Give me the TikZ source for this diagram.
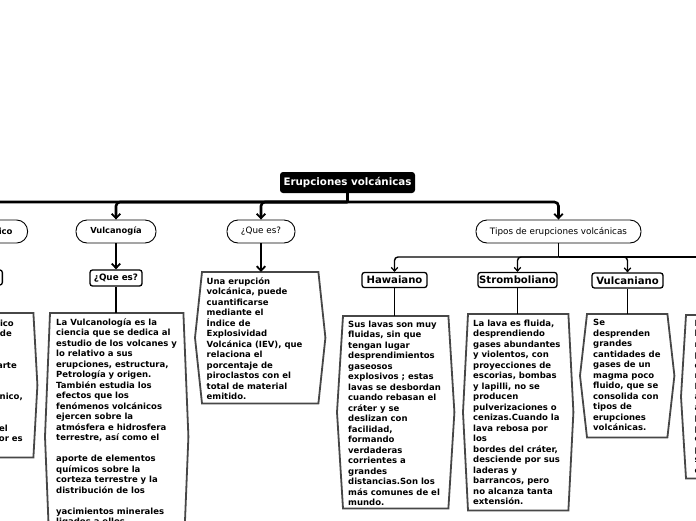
\documentclass[tikz,border=0pt]{standalone}
\usepackage{fontspec}
\setmainfont{DejaVu Sans}
\usetikzlibrary{arrows.meta,calc}
\begin{document}
\begin{tikzpicture}[x=1pt,y=-1pt,
  rootnode/.style={fill=black, text=white, rounded corners=3pt, font=\fontsize{10.3}{12}\selectfont\bfseries, minimum height=21pt, inner xsep=0pt, inner ysep=0pt},
  pill/.style={draw=black, line width=0.9pt, fill=white, rounded corners=11pt, minimum height=23pt, inner xsep=0pt, inner ysep=0pt, font=\fontsize{8.8}{10}\selectfont},
  lbl/.style={draw=black, line width=1.3pt, fill=white, rounded corners=2.5pt, minimum height=15pt, inner sep=0pt, font=\fontsize{10.1}{12}\selectfont\bfseries},
  smalllbl/.style={lbl, font=\fontsize{8.8}{10}\selectfont\bfseries, minimum height=16pt},
  boxarea/.style={inner sep=0pt, anchor=north west},
  boxtext/.style={inner sep=0pt, anchor=north west, align=left, font=\fontsize{8.5}{10.5}\selectfont\bfseries},
  frag/.style={inner sep=0pt, anchor=base east, font=\fontsize{8.5}{10.5}\selectfont\bfseries},
  hexline/.style={draw=black!72, line width=1.8pt, fill=white, line join=miter},
  bigline/.style={line width=2.6pt, rounded corners=4pt},
  midline/.style={line width=1.8pt},
  thinline/.style={line width=1.4pt, rounded corners=3.5pt},
  bigarrow/.style={-{Straight Barb[length=4.5pt,width=8.5pt,line width=1.8pt]}},
  smallarrow/.style={-{Straight Barb[length=3.5pt,width=6.5pt,line width=1.3pt]}}
]
\useasboundingbox (0,0) rectangle (696,520);
\clip (0,0) rectangle (696,520);
\fill[white] (0,0) rectangle (696,520);

% box areas (invisible, named)
\node[boxarea, minimum width=113pt, minimum height=144pt] (lbox) at (-80,313) {};
\node[boxarea, minimum width=133pt, minimum height=247pt] (vbox) at (50,313) {};
\node[boxarea, minimum width=116pt, minimum height=131pt] (ebox) at (202,272) {};
\node[boxarea, minimum width=105pt, minimum height=192pt] (hbox) at (343,316) {};
\node[boxarea, minimum width=100pt, minimum height=196pt] (sbox) at (468,314) {};
\node[boxarea, minimum width=80pt, minimum height=123pt] (ubox) at (587,314) {};
\node[boxarea, minimum width=104pt, minimum height=163pt] (rbox) at (686,315) {};

% hexagonal frames
\foreach \n/\b in {lbox/4, vbox/5, ebox/7, hbox/6, sbox/5, ubox/7, rbox/5}
  \draw[hexline] (\n.north west) -- (\n.north east) -- ([xshift=\b pt]\n.east)
    -- (\n.south east) -- (\n.south west) -- ([xshift=-\b pt]\n.west) -- cycle;

% texts in boxes
\node[frag] (lf1) at (14,326) {ico};
\node[frag] (lf2) at (12,336.5) {de};
\node[frag] (lf3) at (17,368) {arte};
\node[frag] (lf4) at (23,399.5) {nico,};
\node[frag] (lf5) at (8,431) {el};
\node[frag] (lf6) at (23,441.5) {or es};

\node[boxtext] (vtext) at ([shift={(6,5)}]vbox.north west) {La Vulcanología es la\\ciencia que se dedica al\\estudio de los volcanes y\\lo relativo a sus\\erupciones, estructura,\\Petrología y origen.\\También estudia los\\efectos que los\\fenómenos volcánicos\\ejercen sobre la\\atmósfera e hidrosfera\\terrestre, así como el\\[10.5pt]aporte de elementos\\químicos sobre la\\corteza terrestre y la\\distribución de los\\[10.5pt]yacimientos minerales\\ligados a ellos};

\node[boxtext] (etext) at ([shift={(4.5,5)}]ebox.north west) {Una erupción\\volcánica, puede\\cuantificarse\\mediante el\\Índice de\\Explosividad\\Volcánica (IEV), que\\relaciona el\\porcentaje de\\piroclastos con el\\total de material\\emitido.};

\node[boxtext] (htext) at ([shift={(5,4.5)}]hbox.north west) {Sus lavas son muy\\fluidas, sin que\\tengan lugar\\desprendimientos\\gaseosos\\explosivos ; estas\\lavas se desbordan\\cuando rebasan el\\cráter y se\\deslizan con\\facilidad,\\formando\\verdaderas\\corrientes a\\grandes\\distancias.Son los\\más comunes de el\\mundo.};

\node[boxtext] (stext) at ([shift={(5,5.5)}]sbox.north west) {La lava es fluida,\\desprendiendo\\gases abundantes\\y violentos, con\\proyecciones de\\escorias, bombas\\y lapilli, no se\\producen\\pulverizaciones o\\cenizas.Cuando la\\lava rebosa por\\los\\bordes del cráter,\\desciende por sus\\laderas y\\barrancos, pero\\no alcanza tanta\\extensión.};

\node[boxtext] (utext) at ([shift={(6,5)}]ubox.north west) {Se\\desprenden\\grandes\\cantidades de\\gases de un\\magma poco\\fluido, que se\\consolida con\\tipos de\\erupciones\\volcánicas.};

\node[boxtext] (rtext) at ([shift={(8.5,5)}]rbox.north west) {L\\l\\m\\p\\e\\m\\N\\a\\a\\p\\p\\c\\p\\s\\c};

% root, pills, labels
\node[rootnode, minimum width=135pt] (root) at (347.5,182.5) {Erupciones volcánicas};
\node[pill, anchor=east, minimum width=80pt, text width=50pt, align=right, font=\fontsize{8.5}{10}\selectfont\bfseries] (lpill) at (28,231.5) {ico};
\node[pill, minimum width=80pt, font=\fontsize{8.3}{10}\selectfont\bfseries] (vpill) at (116,231.5) {Vulcanogía};
\node[pill, minimum width=68pt] (qpill) at (261,231.5) {¿Que es?};
\node[pill, minimum width=165pt] (tpill) at (558.5,231.5) {Tipos de erupciones volcánicas};

\node[lbl, anchor=east, minimum width=50pt] (llbl) at (3,277.5) {};
\node[smalllbl, minimum width=52pt] (vqlbl) at (116,278) {¿Que es?};
\node[lbl, minimum width=65pt] (hlbl) at (394.5,280) {Hawaiano};
\node[lbl, minimum width=79pt] (slbl) at (517.5,280) {Stromboliano};
\node[lbl, minimum width=71pt] (ulbl) at (627.5,280.5) {Vulcaniano};

% connectors from root
\coordinate (hub) at (347.5,202);
\draw[bigline] (root.south) -- (hub);
\draw[bigline, bigarrow] (hub) -| (lpill.north);
\draw[bigline, bigarrow] (hub) -| (vpill.north);
\draw[bigline, bigarrow] (hub) -| (qpill.north);
\draw[bigline, bigarrow] (hub) -| (tpill.north);

% Vulcanogia branch
\draw[midline, bigarrow] (vpill.south) -- (vqlbl.north);
\draw[midline] (vqlbl.south) -- (vqlbl.south |- vbox.north);
\draw[midline, bigarrow] (qpill.south) -- (qpill.south |- ebox.north);
\draw[midline, bigarrow] (lpill.south) -- (lpill.south |- llbl.north);
\draw[midline] (llbl.south) -- (llbl.south |- lbox.north);

% Tipos branch
\coordinate (thub) at (558.5,257);
\coordinate (rext) at (720,257);
\draw[thinline] (tpill.south) -- (thub);
\draw[thinline, smallarrow] (thub) -| (hlbl.north);
\draw[thinline, smallarrow] (thub) -| (slbl.north);
\draw[thinline, smallarrow] (thub) -| (ulbl.north);
\draw[thinline] (thub) -- (rext);
\draw[midline] (hlbl.south) -- (hlbl.south |- hbox.north);
\draw[midline] (slbl.south) -- (slbl.south |- sbox.north);
\draw[midline] (ulbl.south) -- (ulbl.south |- ubox.north);
\end{tikzpicture}
\end{document}
